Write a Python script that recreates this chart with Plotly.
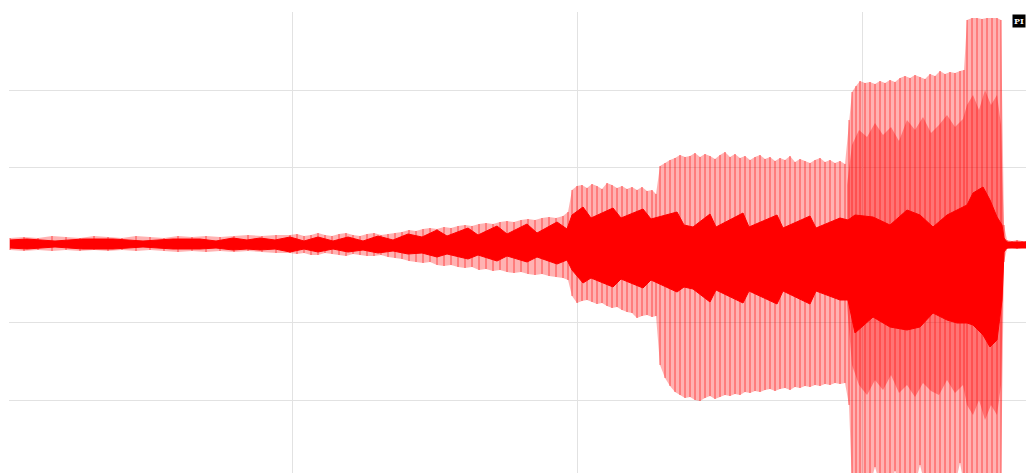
import plotly.graph_objects as go

# Envelope of the recorded waveform, read off the picture
# x: sample index, y: amplitude (raw units; one grid step = 77.5)
outer_n = [3, 17, 31, 45, 59, 73, 87, 101, 115, 129, 143, 157, 171, 185, 199, 213, 227, 241, 255, 269, 283,
           290, 297, 304, 311, 318, 325, 332, 339, 346, 353, 360, 367, 374, 381, 388,
           395, 402, 409, 416, 423, 430, 437, 444, 451, 458, 465, 472, 479, 486, 493, 500, 507, 514, 521, 528,
           535, 542, 549, 556, 561,
           565, 570, 575, 580, 585, 590, 595, 600, 605, 610, 615, 620, 625, 630, 635, 640, 645, 649,
           653, 658, 663, 668, 673, 678,
           683, 688, 693, 698, 703, 708, 713, 718, 723, 728, 733, 738, 743, 748, 753, 758, 763, 768, 773, 778,
           783, 788, 793, 798, 803, 808, 813, 818, 823, 828, 833, 838,
           842, 845, 849, 853, 858, 863, 868, 873, 878, 883, 888, 893, 898, 903, 908, 913, 918, 923, 928, 933,
           938, 943, 948, 953, 957,
           960, 965, 970, 975, 980, 985, 990, 994,
           997, 1000, 1005, 1010, 1015, 1019]
outer_hi = [7, 8, 7, 9, 8, 7, 9, 8, 7, 9, 8, 7, 9, 8, 9, 8, 9, 10, 9, 10, 10,
            11, 9, 10, 12, 10, 9, 11, 12, 10, 9, 11, 12, 10, 11, 12,
            13, 15, 14, 16, 17, 16, 18, 17, 19, 20, 19, 21, 22, 21, 23, 24, 23, 25, 26, 25,
            27, 28, 27, 29, 33,
            55, 59, 60, 57, 61, 59, 56, 62, 60, 57, 59, 56, 58, 55, 58, 54, 55, 51,
            79, 82, 85, 87, 90, 88,
            89, 92, 88, 91, 89, 86, 90, 93, 88, 91, 87, 89, 85, 88, 90, 86, 88, 84, 87, 85,
            89, 83, 86, 84, 82, 85, 87, 83, 85, 82, 84, 81,
            125, 153, 159, 164, 162, 163, 161, 164, 162, 165, 163, 167, 169, 167, 170, 168, 166, 171, 169, 174,
            171, 173, 172, 174, 175,
            225, 227, 227, 226, 227, 227, 227, 225,
            20, 5, 4, 5, 4, 4]
outer_lo = [-5, -6, -5, -6, -5, -6, -5, -6, -5, -6, -5, -6, -7, -6, -7, -6, -7, -6, -7, -8, -8,
            -9, -8, -10, -10, -8, -9, -10, -11, -9, -10, -11, -11, -10, -12, -13,
            -14, -16, -17, -18, -17, -20, -21, -20, -22, -23, -22, -25, -24, -26, -25, -27, -28, -27, -29, -30,
            -29, -31, -32, -33, -35,
            -51, -58, -56, -55, -57, -59, -58, -61, -63, -62, -65, -67, -68, -73, -71, -70, -72, -71,
            -120, -133, -141, -147, -150, -153,
            -152, -155, -156, -153, -151, -154, -152, -150, -151, -149, -150, -147, -148, -146, -147, -145,
            -144, -146, -144, -143, -145, -142, -143, -141, -142, -140, -141, -139, -140, -138, -139, -138,
            -160, -240, -240, -230, -240, -240, -222, -240, -240, -240, -226, -240, -240, -240, -240, -220,
            -240, -240, -240, -228, -240, -240, -240, -218, -240,
            -240, -240, -240, -240, -240, -240, -240, -240,
            -17, -4, -3, -4, -3, -3]

# band of densely overlapping strokes in the loudest part
mid_n = [840, 845, 852, 860, 868, 876, 884, 892, 900, 908, 916, 924, 932, 940, 948, 956,
         960, 966, 972, 978, 984, 990, 994, 997]
mid_hi = [60, 100, 115, 108, 122, 110, 118, 104, 125, 115, 128, 112, 120, 130, 118, 126,
          140, 150, 135, 155, 140, 150, 120, 10]
mid_lo = [-60, -120, -140, -150, -135, -145, -130, -148, -140, -152, -138, -146, -150, -135, -148, -140,
          -160, -170, -155, -175, -160, -170, -140, -10]

# solid core
core_n = [3, 20, 48, 76, 106, 136, 166, 193, 209, 226, 240, 253, 268,
          283, 297, 311, 326, 341, 356, 371, 386, 401,
          415, 430, 440, 461, 471, 490, 500, 520, 530, 550, 560,
          565, 576, 584, 606, 614, 636, 644, 670,
          677, 686, 703, 709, 736, 742, 770, 776, 803, 809, 833,
          841, 848, 866, 883, 900, 913, 926, 940, 950, 960, 966, 976, 983, 990, 995, 997,
          1000, 1019]
core_hi = [5, 6, 4, 6, 6, 4, 6, 6, 4, 7, 5, 7, 5,
           8, 4, 8, 4, 8, 4, 9, 5, 11,
           8, 15, 9, 17, 10, 19, 11, 21, 12, 23, 16,
           30, 38, 27, 37, 27, 36, 26, 33,
           20, 18, 31, 18, 32, 18, 30, 17, 29, 17, 27,
           25, 30, 28, 20, 35, 30, 18, 30, 35, 40, 52, 58, 45, 28, 20, 7,
           3, 3]
core_lo = [-3, -4, -2, -4, -4, -2, -4, -4, -3, -5, -4, -5, -4,
           -7, -4, -7, -4, -7, -5, -8, -6, -9,
           -8, -12, -9, -14, -10, -16, -11, -17, -12, -19, -15,
           -25, -38, -33, -42, -34, -43, -35, -47,
           -42, -44, -57, -45, -58, -46, -59, -46, -59, -46, -55,
           -55, -88, -72, -82, -85, -82, -68, -75, -78, -78, -80, -90, -102, -95, -55, -7,
           -3, -3]

grid_n = [285, 570, 855]
grid_amp = [-155, -77.5, 77.5, 155]
badge_text = "PI"

fig = go.Figure()


def band(xs, hi, lo, fillcolor, edge="rgba(255,0,0,0)", width=0):
    fig.add_trace(go.Scatter(x=xs, y=hi, mode="lines", line=dict(width=width, color=edge),
                             hoverinfo="skip", showlegend=False))
    fig.add_trace(go.Scatter(x=xs, y=lo, mode="lines", line=dict(width=width, color=edge),
                             fill="tonexty", fillcolor=fillcolor, hoverinfo="skip", showlegend=False))


# light outer envelope
band(outer_n, outer_hi, outer_lo, "rgba(255,0,0,0.30)")

# individual spikes from the envelope samples
sx, sy = [], []
for n, h, l in zip(outer_n, outer_hi, outer_lo):
    sx += [n, n, None]
    sy += [h, l, None]
fig.add_trace(go.Scatter(x=sx, y=sy, mode="lines", line=dict(color="rgba(255,0,0,0.6)", width=1),
                         connectgaps=False, hoverinfo="skip", showlegend=False))

# dense stroke band
band(mid_n, mid_hi, mid_lo, "rgba(255,0,0,0.35)")

# solid core
band(core_n, core_hi, core_lo, "rgb(255,0,0)", edge="rgb(255,0,0)", width=1)

axis_common = dict(showticklabels=False, ticks="", showline=False, zeroline=False,
                   gridcolor="#e2e2e2", gridwidth=1)
fig.update_xaxes(range=[2, 1019], tickvals=grid_n, **axis_common)
fig.update_yaxes(range=[-228, 233], tickvals=grid_amp, **axis_common)

fig.add_annotation(xref="paper", yref="paper", x=1, y=1 - 2 / 461, xanchor="right", yanchor="top",
                   text="<b>" + badge_text + "</b>", showarrow=False, bgcolor="black",
                   font=dict(color="white", size=8, family="DejaVu Serif"), borderpad=1)

fig.update_layout(width=1026, height=473, margin=dict(l=9, r=0, t=12, b=0),
                  paper_bgcolor="white", plot_bgcolor="white", showlegend=False)

fig.write_html("out.html", config={"displayModeBar": False},
               post_script="document.body.style.margin='0';document.body.style.overflow='hidden';")
